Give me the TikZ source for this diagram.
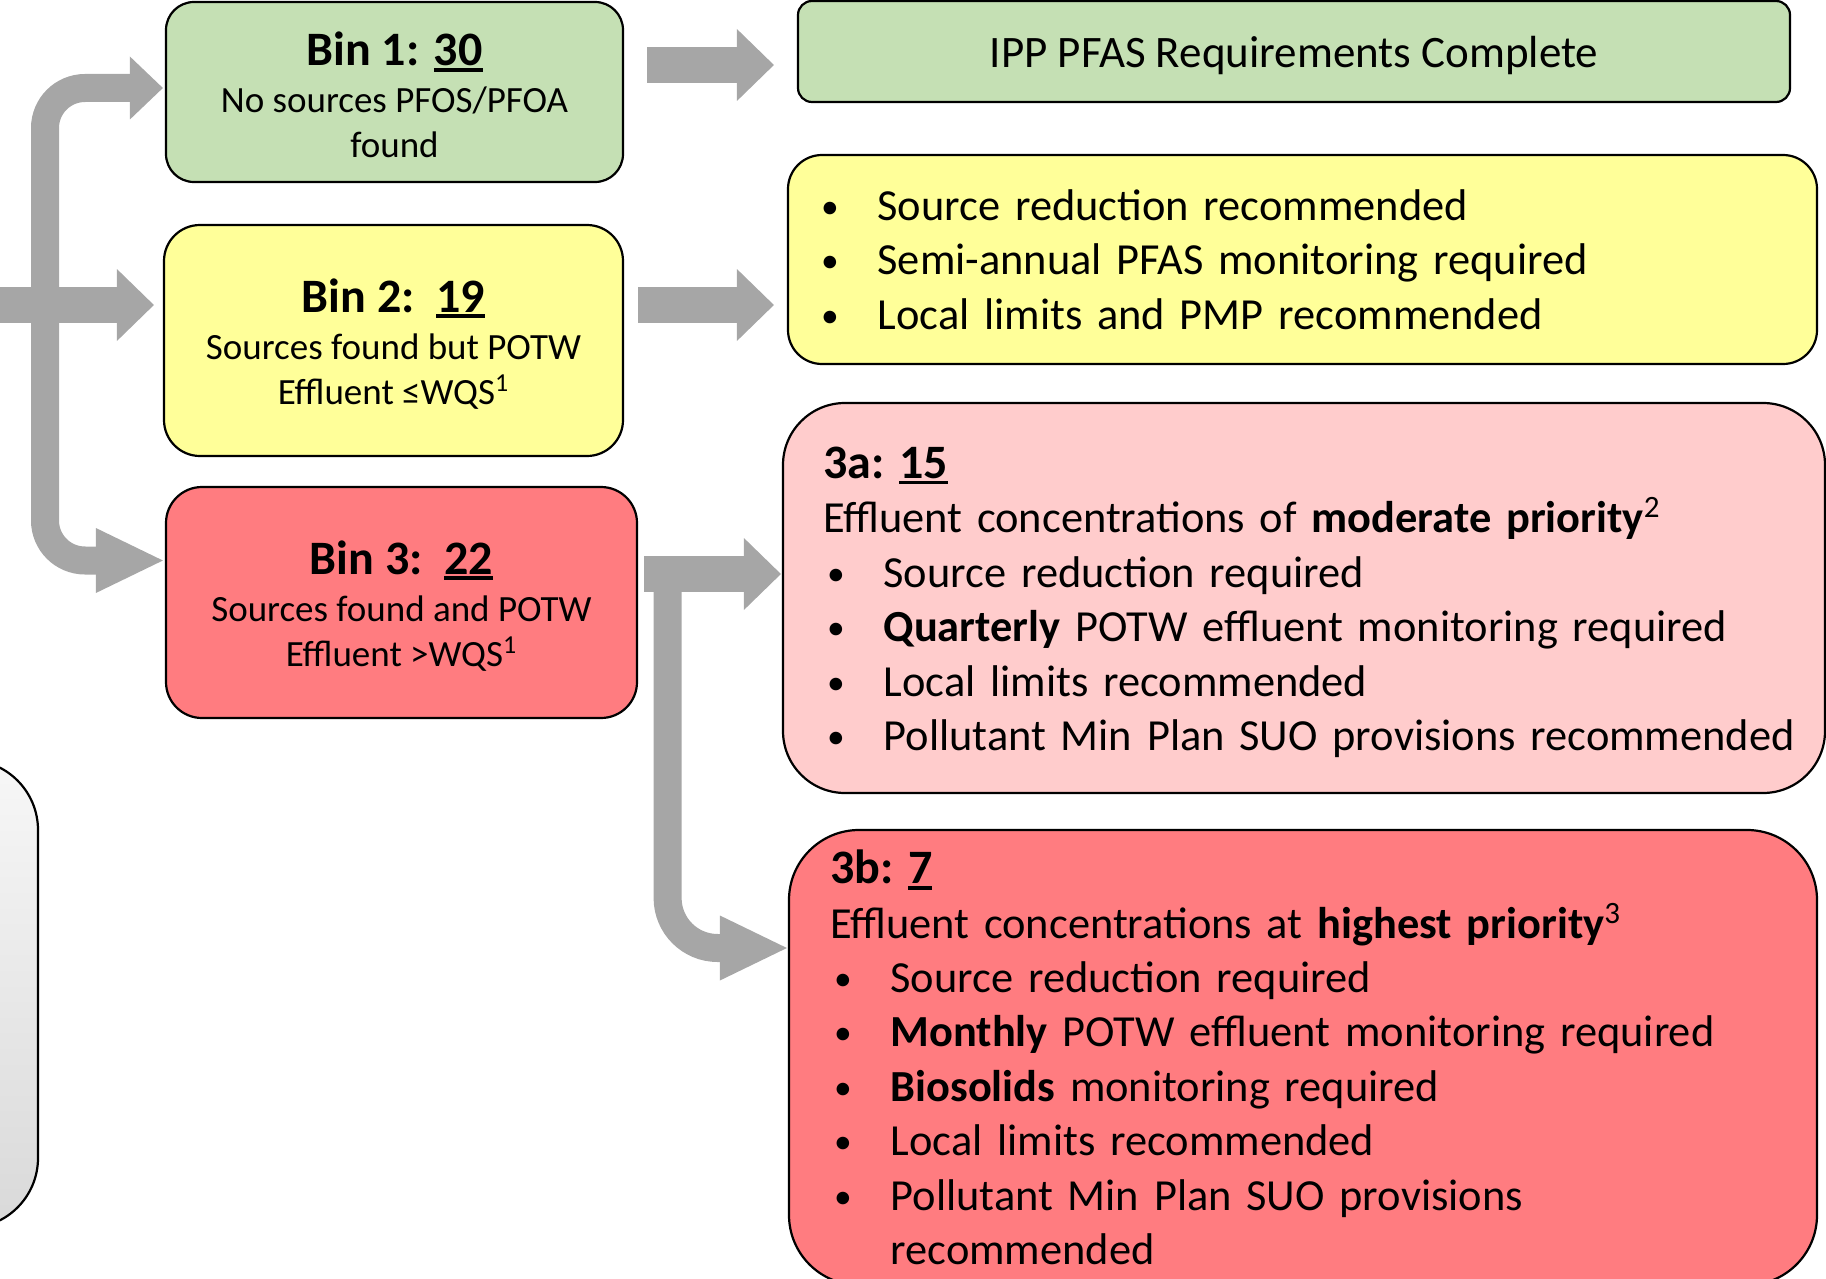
\documentclass[tikz,border=0pt]{standalone}
\usepackage{fontspec}
\setmainfont{Carlito}
\usetikzlibrary{arrows.meta,calc,positioning}

\definecolor{bingreen}{HTML}{C5E0B4}
\definecolor{binyellow}{HTML}{FFFF99}
\definecolor{binpink}{HTML}{FFCCCC}
\definecolor{binred}{HTML}{FF7C80}
\definecolor{flowgray}{HTML}{A6A6A6}
\definecolor{keytop}{HTML}{F7F7F7}
\definecolor{keybot}{HTML}{D9D9D9}

\newcommand{\bintitle}[1]{{\fontsize{24}{27.5}\selectfont\bfseries #1}}
\newcommand{\lift}{\rule{0pt}{20pt}}
\newcommand{\unum}[1]{\setbox0=\hbox{#1}\rlap{\rule[-2.9pt]{\wd0}{1.8pt}}\box0}
\newcommand{\itm}[1]{\mbox{\makebox[30.3pt][l]{\makebox[13pt]{\raisebox{1pt}{\scalebox{0.8}{\textbullet}}}}#1}}

\begin{document}
\begin{tikzpicture}[x=0.5pt, y=-0.5pt,
	box/.style = {draw, line width=1.1pt, rounded corners=16pt},
	bin/.style = {box, align=center, font=\fontsize{18.5}{22.5}\selectfont},
	todo/.style = {box, align=left, font=\fontsize{22.2}{27.2}\selectfont\frenchspacing},
	flow/.style = {draw=flowgray, line width=18pt, -{Triangle[length=18.5pt, width=36pt, line width=0pt]}},
	branch/.style = {draw=flowgray, line width=14pt, rounded corners=20pt, -{Triangle[length=33.5pt, width=32.5pt, line width=0pt]}}]
	\useasboundingbox (0,0) rectangle (1826,1279);

	% boxes
	\node[box, rounded corners=35pt, top color=keytop, bottom color=keybot, minimum width=169pt, minimum height=234pt] (keybox) at (-131,994) {};
	\node[bin, fill=bingreen, rounded corners=14pt, minimum width=228.5pt, minimum height=90pt] (bin1) at (394.5,92) {\lift\bintitle{Bin 1: \unum{30}}\\[1pt] No sources PFOS/PFOA\\ found};
	\node[bin, fill=binyellow, rounded corners=18pt, minimum width=229.5pt, minimum height=115.5pt] (bin2) at (393.5,340.5) {\lift\bintitle{Bin 2:\ \ \unum{19}}\\[1pt] Sources found but POTW\\ Effluent ≤WQS\textsuperscript{1}};
	\node[bin, fill=binred, rounded corners=18pt, minimum width=235.5pt, minimum height=115.5pt] (bin3) at (401.5,602.5) {\lift\bintitle{Bin 3:\ \ \unum{22}}\\[1pt] Sources found and POTW\\ Effluent >WQS\textsuperscript{1}};

	\node[box, fill=bingreen, rounded corners=7pt, minimum width=496pt, minimum height=50.5pt, text depth=0pt, font=\fontsize{22.5}{27.5}\selectfont] (ipp) at (1294,51.5) {IPP PFAS Requirements Complete};
	\node[todo, fill=binyellow, rounded corners=17pt, inner xsep=14.5pt, text width=485.5pt, minimum height=104.5pt] (req2) at (1302.5,259.5) {\itm{Source reduction recommended}\\ \itm{Semi-annual PFAS monitoring required}\\ \itm{Local limits and PMP recommended}};
	\node[todo, fill=binpink, rounded corners=31pt, inner xsep=20pt, text width=481pt, minimum height=195pt] (req3a) at (1304,598) {\lift\bintitle{3a: \unum{15}}\\ Effluent concentrations of \textbf{moderate priority}\textsuperscript{2}\\ \itm{Source reduction required}\\ \itm{\textbf{Quarterly} POTW effluent monitoring required}\\ \itm{Local limits recommended}\\ \itm{Pollutant Min Plan SUO provisions recommended}};
	\node[todo, fill=binred, rounded corners=35pt, inner xsep=20.5pt, text width=473pt, minimum height=227.5pt] (req3b) at (1303,1057.5) {\bintitle{3b: \unum{7}}\\ Effluent concentrations at \textbf{highest priority}\textsuperscript{3}\\ \itm{Source reduction required}\\ \itm{\textbf{Monthly} POTW effluent monitoring required}\\ \itm{\textbf{Biosolids} monitoring required}\\ \itm{Local limits recommended}\\ \itm{Pollutant Min Plan SUO provisions}\\ \hspace*{30.3pt}recommended};

	% arrows
	\coordinate (row1) at (0,65);
	\coordinate (row2) at (0,305);
	\coordinate (row3) at (0,574);
	\coordinate (entry) at (-10,305);
	\coordinate (fork) at (45,305);
	\coordinate (fork3) at ($(bin3.east |- row3)+(29.5,0)$);

	\draw[flow] ($(bin1.east |- row1)+(23,0)$) -- ($(ipp.west |- row1)+(-23,0)$);
	\draw[flow] ($(bin2.east |- row2)+(14,0)$) -- ($(req2.west |- row2)+(-13,0)$);
	\draw[flow] ($(bin3.east |- row3)+(6,0)$) -- ($(req3a.west |- row3)+(-1,0)$);
	\draw[flow] (entry) -- ($(bin2.west |- row2)+(-9,0)$);

	\draw[branch, -{Triangle[length=16.5pt, width=31.5pt, line width=0pt]}] (fork) |- ($(bin1.west)+(-2,-4)$);
	\draw[branch] (fork) |- ($(bin3.west)+(-2,-42)$);
	\draw[branch, rounded corners=25pt] (fork3) |- ($(req3b.west)+(-1,-109.5)$);
\end{tikzpicture}
\end{document}
